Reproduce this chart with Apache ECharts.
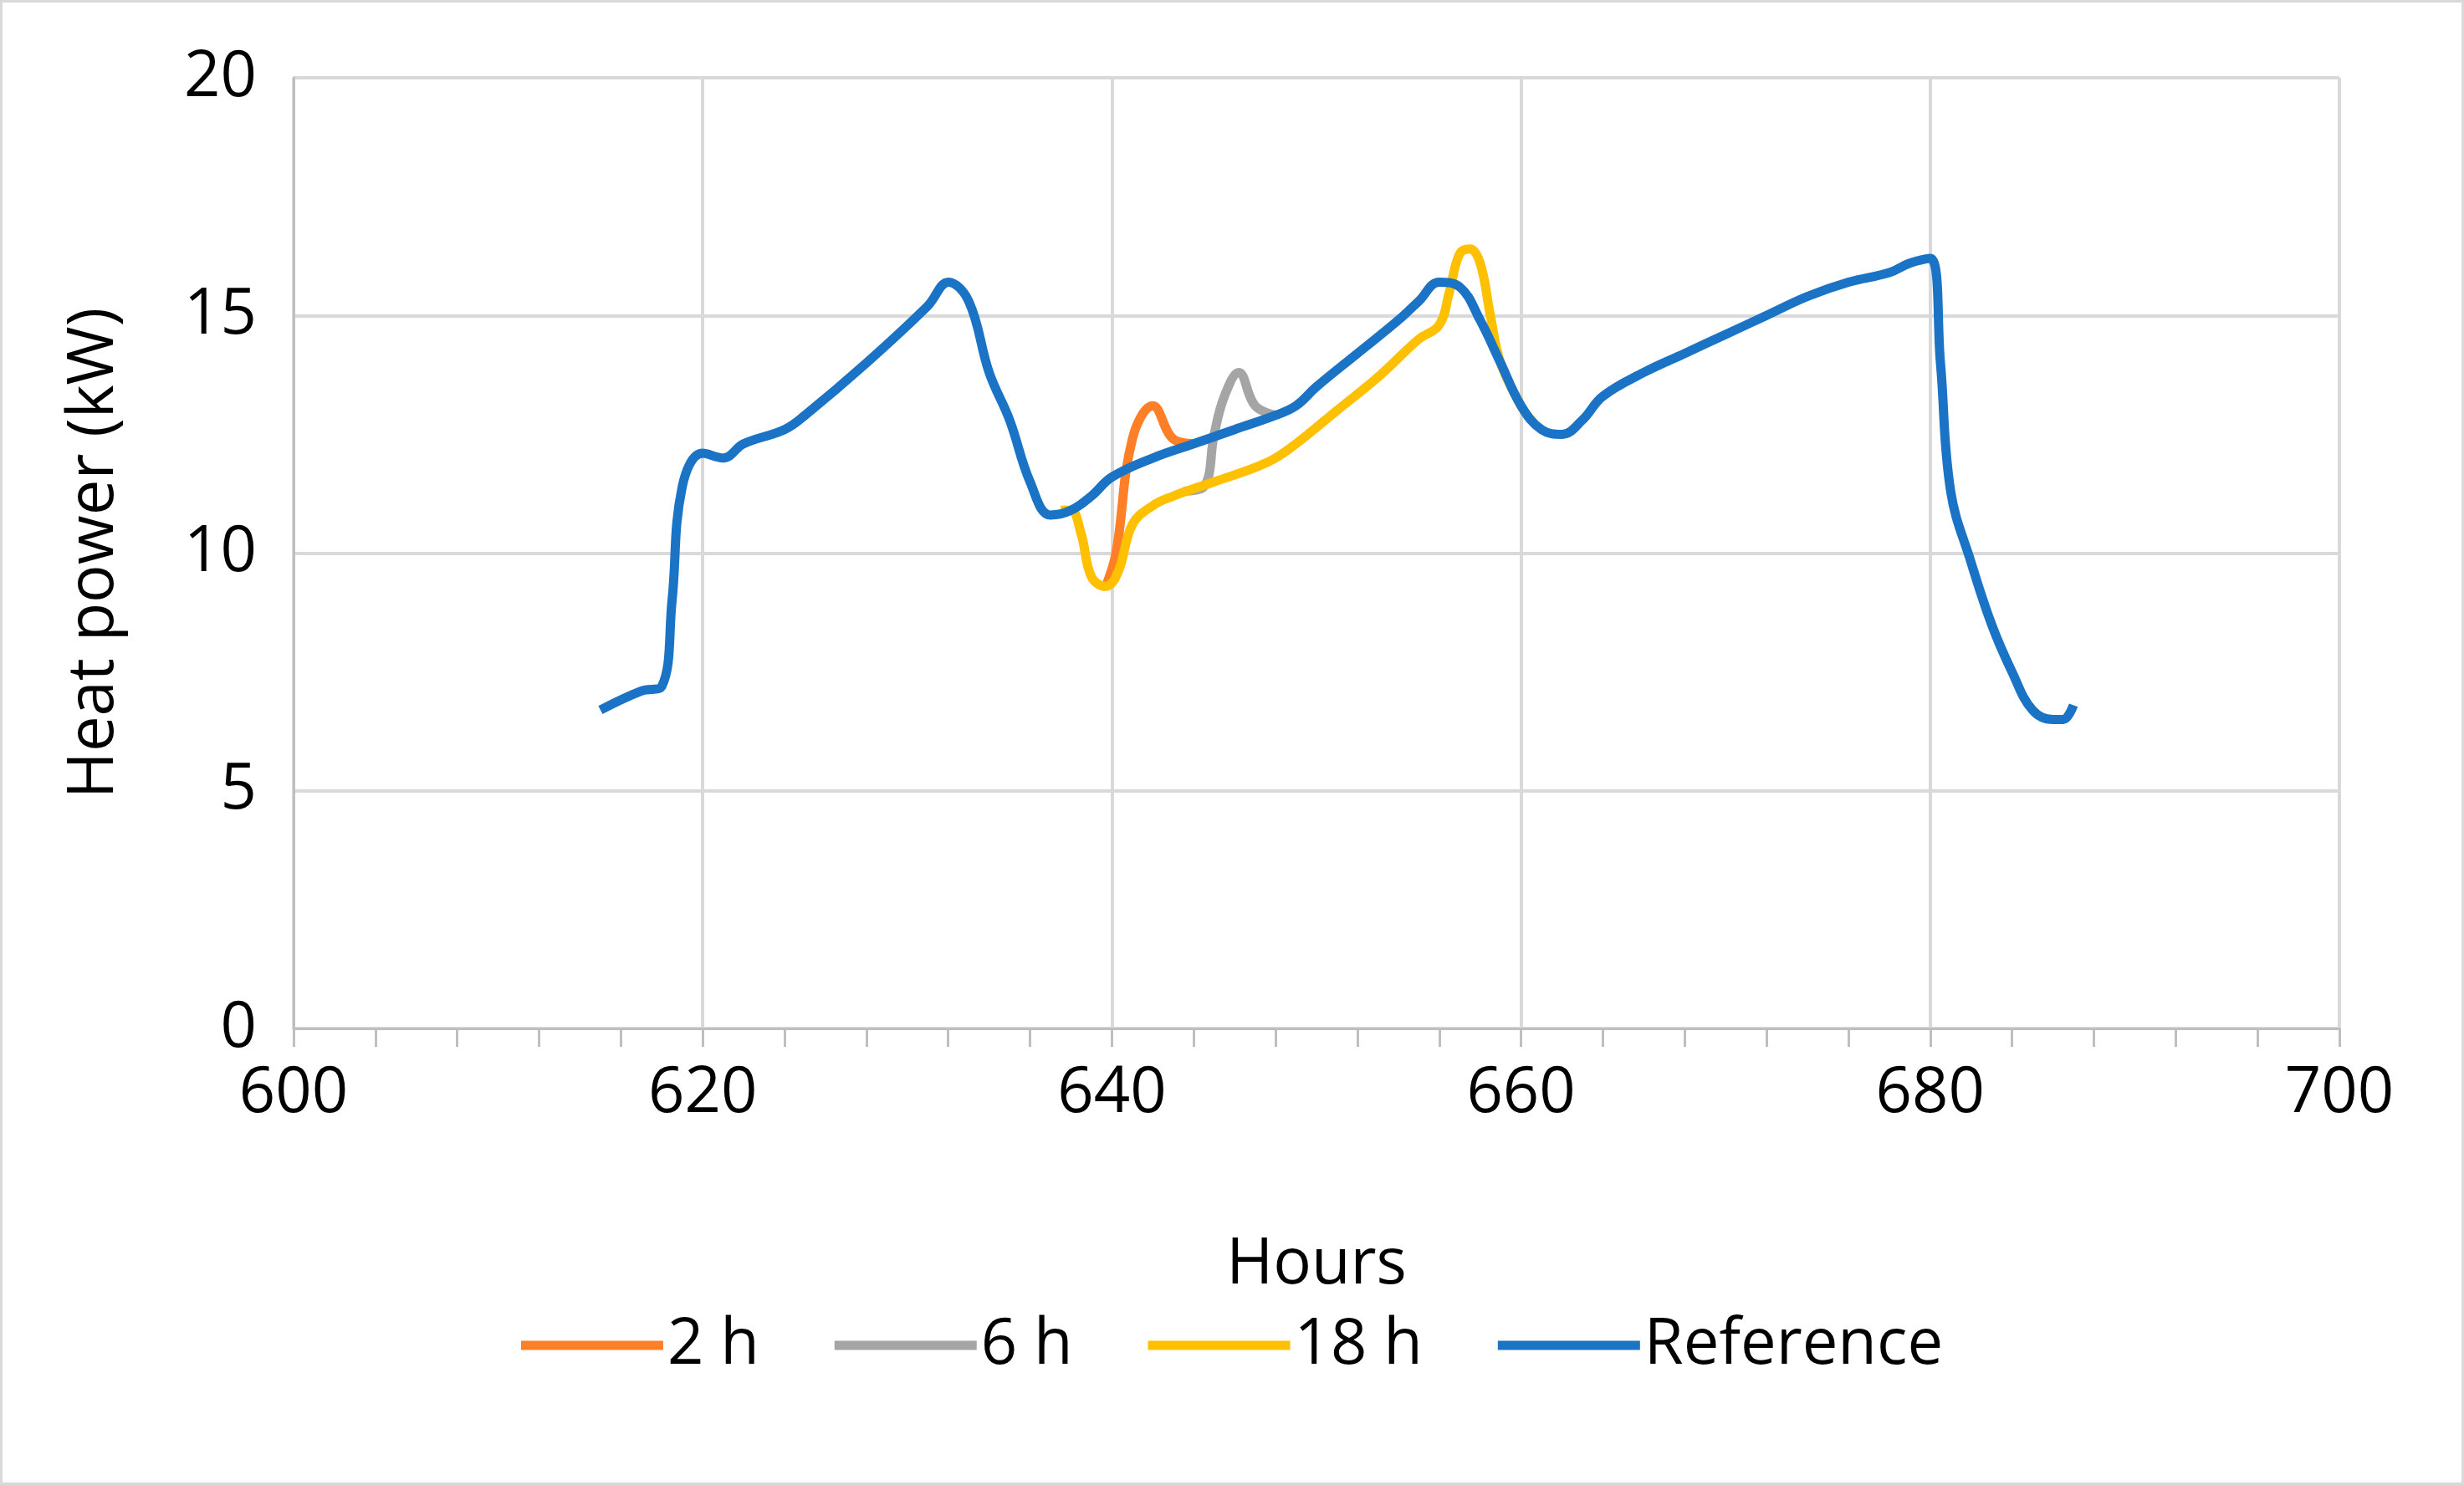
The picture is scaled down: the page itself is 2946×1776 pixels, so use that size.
<!DOCTYPE html>
<html>
<head>
<meta charset="utf-8">
<script src="https://cdn.jsdelivr.net/npm/echarts@6/dist/echarts.min.js"></script>
<style>
  html, body { margin: 0; padding: 0; background: #fff; }
  #chart { width: 2946px; height: 1776px; box-sizing: border-box; border: 3px solid #d9d9d9; }
</style>
</head>
<body>
<div id="chart"></div>
<script>
'use strict'

// [hour, kW]
var reference = [[615,6.7],[617,7.1],[618,7.2],[618.5,9],[619,11.4],[620,12.1],[621,12.0],[622,12.3],[624,12.6],[625,12.9],
  [628,14.0],[631,15.2],[632,15.7],[633,15.3],[634,13.8],[635,12.8],[636,11.5],[637,10.8],[638,10.9],[639,11.2],[640,11.6],
  [642,12.0],[644,12.3],[646,12.6],[648,12.9],[649,13.1],[650,13.5],[652,14.2],[654,14.9],[655,15.3],[656,15.7],[657,15.6],
  [658,14.9],[659,14.0],[660,13.1],[661,12.6],[662,12.5],[663,12.8],[664,13.3],[666,13.8],[668,14.2],[670,14.6],[672,15.0],
  [674,15.4],[676,15.7],[678,15.9],[679,16.1],[680,16.2],[680.5,14],[681,11.3],[682,9.8],[683,8.5],[684,7.5],[685,6.7],
  [686,6.5],[686.5,6.5],[687,6.8]];
var h18 = [[637.5,10.9],[638,10.9],[638.5,10.4],[639,9.5],[639.7,9.3],[640.3,9.6],[641,10.6],[642,11.0],[643,11.2],[645,11.5],
  [647,11.8],[648,12.0],[649,12.3],[651,13.0],[653,13.7],[655,14.5],[656,14.8],[656.5,15.5],[657,16.3],[657.5,16.4],
  [658,16.1],[658.5,15.0],[659,14.0],[660,13.1],[660.5,12.8]];
var h2 = [[639.7,9.3],[640.2,10.0],[641,12.4],[642,13.1],[643,12.4],[644,12.3]];
var h6 = [[643.5,11.3],[644.5,11.4],[645,12.5],[645.5,13.3],[646.2,13.8],[647,13.1],[648,12.9]];

var font = '"Open Sans", "Liberation Sans", sans-serif';

function line(name, data, color, z) {
  return { name: name, type: 'line', data: data, smooth: 0.4, showSymbol: false, z: z,
    lineStyle: { width: 11, color: color }, itemStyle: { color: color } };
}

var chart = echarts.init(document.getElementById('chart'));
chart.setOption({
  animation: false,
  grid: { left: 348, right: 146, top: 90, bottom: 543 },
  legend: {
    bottom: 121, itemWidth: 170, itemHeight: 11, itemGap: 90,
    icon: 'rect',
    textStyle: { fontFamily: font, fontSize: 76, color: '#000' },
    data: ['2 h', '6 h', '18 h', 'Reference']
  },
  xAxis: {
    type: 'value', min: 600, max: 700, interval: 20,
    name: 'Hours', nameLocation: 'middle', nameGap: 245,
    nameTextStyle: { fontFamily: font, fontSize: 76, color: '#000' },
    axisLine: { lineStyle: { color: '#bfbfbf', width: 3 } },
    axisTick: { show: true, length: 22, lineStyle: { color: '#bfbfbf', width: 3 } },
    minorTick: { show: true, splitNumber: 5, length: 22, lineStyle: { color: '#bfbfbf', width: 3 } },
    axisLabel: { fontFamily: font, fontSize: 76, color: '#000', margin: 40 },
    splitLine: { lineStyle: { color: '#d9d9d9', width: 4 } }
  },
  yAxis: {
    type: 'value', min: 0, max: 20, interval: 5,
    name: 'Heat power (kW)', nameLocation: 'middle', nameGap: 200,
    nameTextStyle: { fontFamily: font, fontSize: 76, color: '#000' },
    axisLine: { show: true, lineStyle: { color: '#bfbfbf', width: 3 } },
    axisTick: { show: false },
    axisLabel: { fontFamily: font, fontSize: 76, color: '#000', margin: 44 },
    splitLine: { lineStyle: { color: '#d9d9d9', width: 4 } }
  },
  series: [
    line('2 h', h2, '#FF7F27', 2),
    line('6 h', h6, '#A5A5A5', 2),
    line('18 h', h18, '#FFC000', 3),
    line('Reference', reference, '#1A73C5', 4)
  ]
});
</script>
</body>
</html>
